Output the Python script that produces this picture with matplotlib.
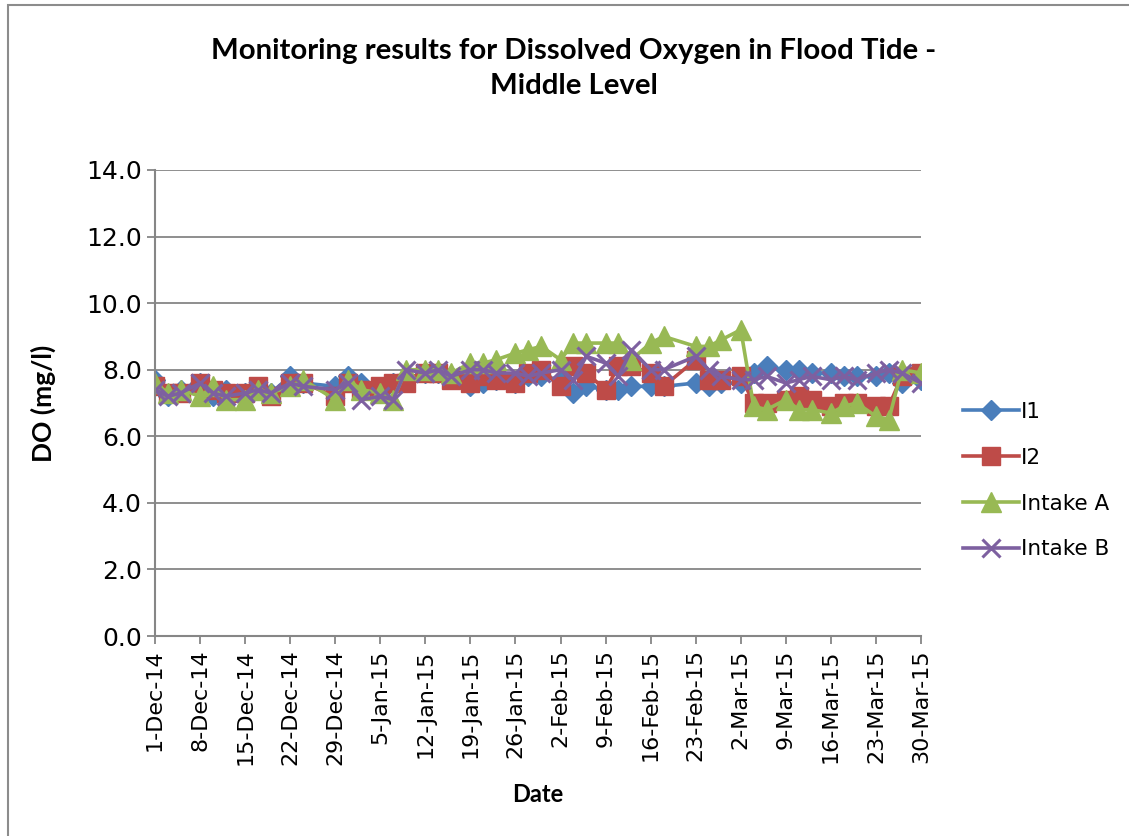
import datetime as dt
import matplotlib
matplotlib.use("Agg")
import matplotlib.pyplot as plt
import matplotlib.dates as mdates
from matplotlib.patches import Rectangle

plt.rcParams['font.family'] = ['Lato', 'DejaVu Sans']

###################
    #DATA#
###################

dates = ["2014-12-01", "2014-12-03", "2014-12-05", "2014-12-08", "2014-12-10", "2014-12-12",
         "2014-12-15", "2014-12-17", "2014-12-19", "2014-12-22", "2014-12-24", "2014-12-29",
         "2014-12-31", "2015-01-02", "2015-01-05", "2015-01-07", "2015-01-09", "2015-01-12",
         "2015-01-14", "2015-01-16", "2015-01-19", "2015-01-21", "2015-01-23", "2015-01-26",
         "2015-01-28", "2015-01-30", "2015-02-02", "2015-02-04", "2015-02-06", "2015-02-09",
         "2015-02-11", "2015-02-13", "2015-02-16", "2015-02-18", "2015-02-23", "2015-02-25",
         "2015-02-27", "2015-03-02", "2015-03-04", "2015-03-06", "2015-03-09", "2015-03-11",
         "2015-03-13", "2015-03-16", "2015-03-18", "2015-03-20", "2015-03-23", "2015-03-25",
         "2015-03-27", "2015-03-30"]

i1 = [7.7, 7.2, 7.4, 7.6, 7.2, 7.4, 7.3, 7.4, 7.3, 7.8, 7.6, 7.5, 7.8, 7.6, 7.3, 7.6, 7.7,
      7.9, 7.9, 7.8, 7.5, 7.6, 7.7, 7.6, 7.8, 7.8, 7.7, 7.3, 7.5, 7.4, 7.4, 7.5, 7.5, 7.5,
      7.6, 7.5, 7.6, 7.6, 7.9, 8.1, 8.0, 8.0, 7.9, 7.9, 7.8, 7.8, 7.8, 7.9, 7.6, 7.7]

i2 = [7.5, 7.3, 7.3, 7.6, 7.4, 7.3, 7.3, 7.5, 7.2, 7.6, 7.6, 7.2, 7.6, 7.4, 7.5, 7.6, 7.6,
      7.9, 7.9, 7.7, 7.6, 7.8, 7.7, 7.6, 7.9, 8.0, 7.5, 8.1, 7.9, 7.4, 8.1, 8.1, 7.9, 7.5,
      8.3, 7.7, 7.7, 7.8, 7.0, 7.0, 7.1, 7.2, 7.1, 6.9, 7.0, 7.0, 6.9, 6.9, 7.8, 7.9]

intake_a = [7.6, 7.3, 7.4, 7.2, 7.5, 7.1, 7.1, 7.4, 7.3, 7.5, 7.7, 7.1, 7.7, 7.4, 7.3, 7.1,
            8.0, 8.0, 8.0, 7.9, 8.2, 8.2, 8.3, 8.5, 8.6, 8.7, 8.3, 8.8, 8.8, 8.8, 8.8, 8.3,
            8.8, 9.0, 8.7, 8.7, 8.9, 9.2, 6.9, 6.8, 7.1, 6.8, 6.8, 6.7, 6.9, 7.0, 6.6, 6.5,
            8.0, 7.9]

intake_b = [7.4, 7.2, 7.3, 7.6, 7.3, 7.2, 7.3, 7.4, 7.3, 7.6, 7.5, 7.4, 7.6, 7.1, 7.2, 7.1,
            8.0, 7.9, 8.0, 7.8, 8.0, 8.0, 7.9, 7.9, 7.8, 7.9, 8.0, 7.7, 8.4, 8.2, 7.8, 8.6,
            8.0, 8.0, 8.4, 8.0, 7.8, 7.7, 7.7, 7.8, 7.6, 7.7, 7.8, 7.7, 7.8, 7.7, 7.9, 8.0,
            7.9, 7.6]

series_names = ["I1", "I2", "Intake A", "Intake B"]
tick_dates = ["2014-12-01", "2014-12-08", "2014-12-15", "2014-12-22", "2014-12-29",
              "2015-01-05", "2015-01-12", "2015-01-19", "2015-01-26", "2015-02-02",
              "2015-02-09", "2015-02-16", "2015-02-23", "2015-03-02", "2015-03-09",
              "2015-03-16", "2015-03-23", "2015-03-30"]

x = [dt.datetime.strptime(d, "%Y-%m-%d") for d in dates]
xt = [dt.datetime.strptime(d, "%Y-%m-%d") for d in tick_dates]

#################
    #PLOTS#
#################

fig = plt.figure(figsize=(11.29, 8.36), dpi=100)
ax = fig.add_axes([0.1373, 0.2392, 0.6785, 0.5575])

# outer chart border
fig.patches.append(Rectangle((0.007, -0.01), 1.2, 1.004, transform=fig.transFigure,
                             fill=False, edgecolor="#8c8c8c", linewidth=1.5))

styles = [("#4A7EBB", "D", 10, 1), ("#BE4B48", "s", 13, 1),
          ("#98B954", "^", 15, 1), ("#7D60A0", "x", 13, 2.2)]
for ys, name, (c, m, ms, mew) in zip([i1, i2, intake_a, intake_b], series_names, styles):
    ax.plot(x, ys, color=c, lw=2.6, marker=m, markersize=ms, markeredgewidth=mew,
            markeredgecolor=c, markerfacecolor=c, label=name)

ax.set_ylim(0, 14)
ax.set_yticks([0, 2, 4, 6, 8, 10, 12, 14])
ax.set_yticklabels([f"{v:.1f}" for v in [0, 2, 4, 6, 8, 10, 12, 14]])
ax.set_xlim(xt[0], xt[-1])
ax.set_xticks(xt)
ax.xaxis.set_major_formatter(mdates.DateFormatter("%-d-%b-%y"))
plt.setp(ax.get_xticklabels(), rotation=90, fontsize=16, family="DejaVu Sans")
plt.setp(ax.get_yticklabels(), fontsize=18, family="DejaVu Sans")

ax.grid(axis="y", color="#868686", lw=1.3)
ax.set_axisbelow(True)
for s in ["top", "right"]:
    ax.spines[s].set_visible(False)
for s in ["left", "bottom"]:
    ax.spines[s].set_color("#868686")
    ax.spines[s].set_linewidth(1.5)
ax.tick_params(axis="both", color="#868686", width=1.3, length=6)

ax.set_ylabel("DO (mg/l)", fontsize=19, fontweight="bold", labelpad=22)
ax.set_xlabel("Date", fontsize=17, fontweight="bold", labelpad=13)
fig.text(0.508, 0.918, "Monitoring results for Dissolved Oxygen in Flood Tide -\nMiddle Level",
         ha="center", va="center", fontsize=21.2, fontweight="bold", linespacing=1.45)

fig.legend(loc="center left", bbox_to_anchor=(0.836, 0.425), frameon=False,
           prop={"family": "DejaVu Sans", "size": 15.5},
           labelspacing=1.2, handlelength=2.6, handletextpad=0.1)

fig.savefig("out.png", dpi=100)
